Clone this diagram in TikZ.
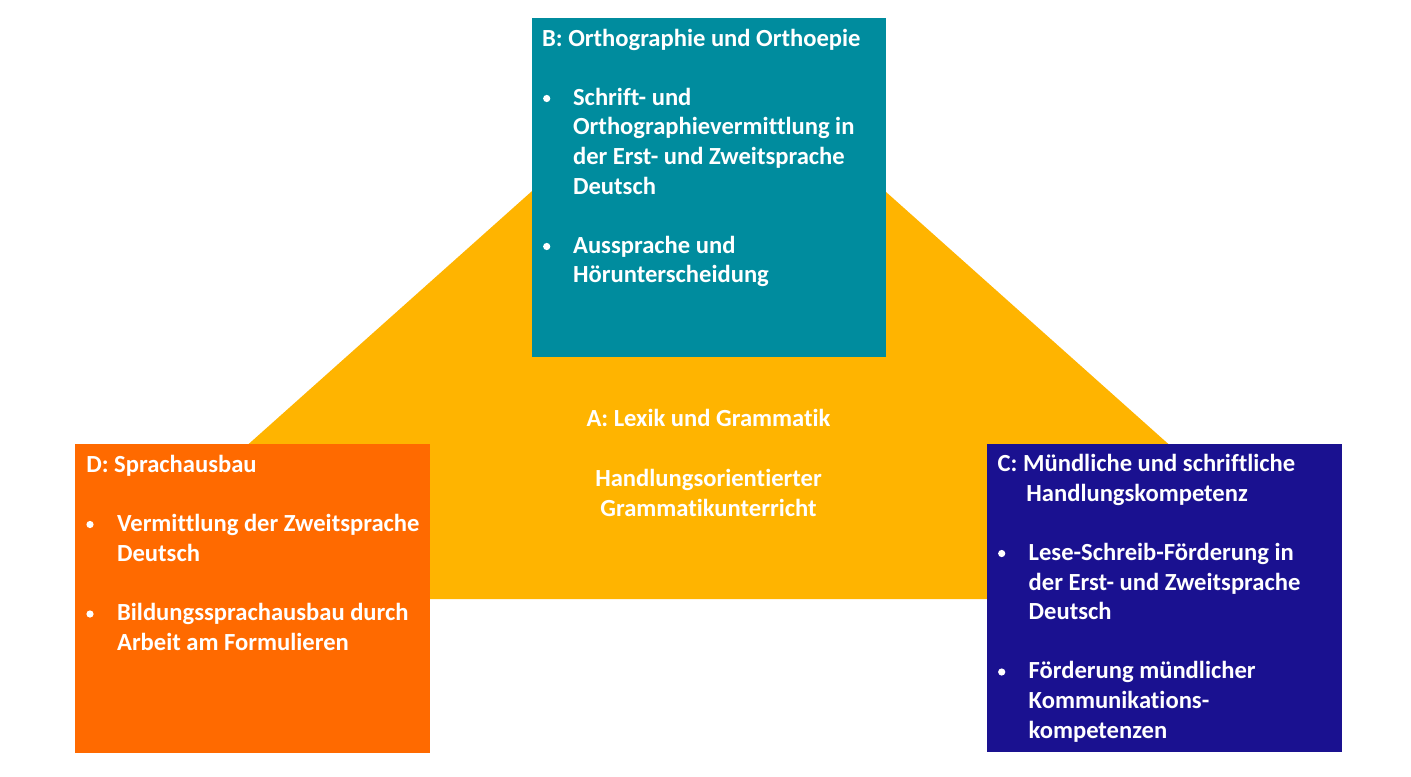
\documentclass[tikz,border=0pt]{standalone}
\usepackage{fontspec}
\setmainfont{Carlito}[Ligatures=NoCommon]
\definecolor{cA}{HTML}{FFB400}
\definecolor{cB}{HTML}{008C9E}
\definecolor{cC}{HTML}{1A1190}
\definecolor{cD}{HTML}{FF6A00}
\begin{document}
\begin{tikzpicture}[x=0.5pt,y=-0.5pt,
  txt/.style={anchor=base west,inner sep=0pt,text=white,font=\fontsize{12.3}{14}\selectfont\bfseries},
  ctxt/.style={anchor=base,inner sep=0pt,text=white,font=\fontsize{12.3}{14}\selectfont\bfseries},
  bul/.style={circle,fill=white,inner sep=0pt,minimum size=3.6pt}]
\useasboundingbox (0,0) rectangle (1411,776);
\fill[white] (0,0) rectangle (1411,776);
% trapezoid A
\fill[cA] (75,599) -- (1342,599) -- (839,150) -- (578,150) -- cycle;
% boxes
\fill[cB] (531.7,18.3) rectangle (885.7,357);
\fill[cD] (75,444.3) rectangle (430,753);
\fill[cC] (987.3,444) rectangle (1342,752.3);
% A text
\node[ctxt] (a1) at (708.5,426.7) {A: Lexik und Grammatik};
\node[ctxt] (a2) at (708.5,486.7) {Handlungsorientierter};
\node[ctxt] (a3) at (708.5,516.3) {Grammatikunterricht};
% B text
\node[txt] (b0) at (541.7,46) {B: Orthographie und Orthoepie};
\node[bul] (bb1) at (546.7,98.5) {};
\node[txt] (b1) at (572.7,105.2) {Schrift- und};
\node[txt] (b2) at (572.7,134.8) {Orthographievermittlung in};
\node[txt] (b3) at (572.7,164.4) {der Erst- und Zweitsprache};
\node[txt] (b4) at (572.7,194) {Deutsch};
\node[bul] (bb2) at (546.7,246.5) {};
\node[txt] (b5) at (572.7,253.2) {Aussprache und};
\node[txt] (b6) at (572.7,282.8) {Hörunterscheidung};
% D text
\node[txt] (d0) at (86,472.5) {D: Sprachausbau};
\node[bul] (db1) at (90,524.5) {};
\node[txt] (d1) at (116.7,531.7) {Vermittlung der Zweitsprache};
\node[txt] (d2) at (116.7,561.3) {Deutsch};
\node[bul] (db2) at (90,614) {};
\node[txt] (d3) at (116.7,620.9) {Bildungssprachausbau durch};
\node[txt] (d4) at (116.7,650.5) {Arbeit am Formulieren};
% C text
\node[txt] (c0) at (997.3,471.7) {C: Mündliche und schriftliche};
\node[txt] (c0b) at (1026,501.3) {Handlungskompetenz};
\node[bul] (cb1) at (1001.7,553.5) {};
\node[txt] (c1) at (1028.3,560.5) {Lese-Schreib-Förderung in};
\node[txt] (c2) at (1028.3,590.1) {der Erst- und Zweitsprache};
\node[txt] (c3) at (1028.3,619.7) {Deutsch};
\node[bul] (cb2) at (1001.7,672) {};
\node[txt] (c4) at (1028.3,678.9) {Förderung mündlicher};
\node[txt] (c5) at (1028.3,708.5) {Kommunikations-};
\node[txt] (c6) at (1028.3,738.1) {kompetenzen};
\end{tikzpicture}
\end{document}
